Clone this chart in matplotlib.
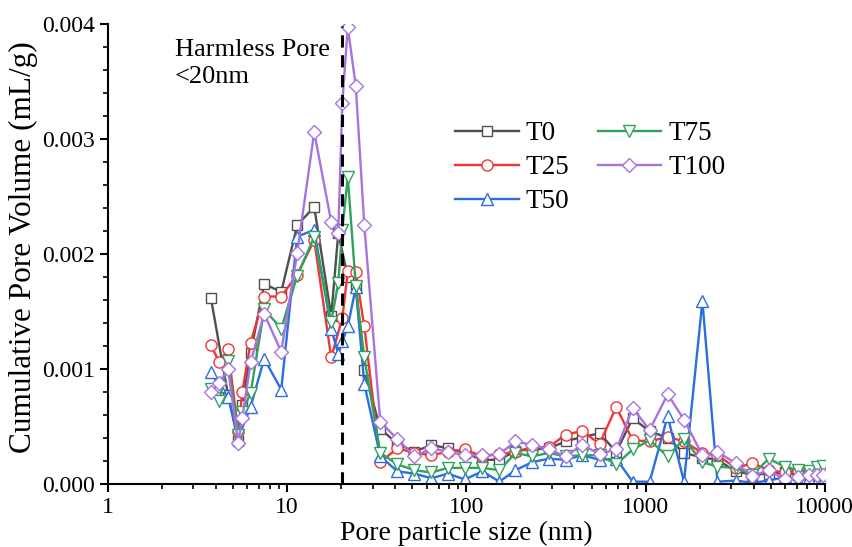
import numpy as np
import matplotlib
matplotlib.use('Agg')
import matplotlib.pyplot as plt

plt.rcParams['font.family'] = ['Liberation Serif', 'DejaVu Serif']
plt.rcParams['mathtext.fontset'] = 'stix'

nan = np.nan

# pore size (nm)
size_nm = [3.75, 4.17, 4.68, 5.33, 5.61, 6.25, 7.44, 9.26, 11.37, 14.15,
           17.6, 19.27, 20.29, 21.78, 24.14, 26.93, 33.07, 41.2, 51.2, 63.8,
           78.8, 97.8, 122.9, 152.9, 187.8, 232.8, 288.4, 357.4, 443, 553,
           686, 846, 1053, 1327, 1637, 2074, 2516, 3183, 3945, 4866,
           5977, 7067, 8140, 9023, 9745]

T0 = [0.00162, nan, 0.00077, 0.00037, 0.00069, 0.00114, 0.00174, 0.00167, 0.00225, 0.00241,
      0.00146, 0.00218, nan, 0.00180, 0.00172, 0.00099, 0.00048, 0.00035, 0.00028, 0.00034,
      0.00031, 0.00027, 0.00021, 0.00021, 0.00029, 0.00030, 0.00031, 0.00037, 0.00041, 0.00044,
      0.00028, 0.00057, 0.00046, 0.00040, 0.00027, 0.00023, 0.00021, 0.00011, 0.00008, 0.00009,
      0.00010, 0.00008, 0.00009, 0.00010, 0.00009]

T25 = [0.00121, 0.00106, 0.00117, 0.00045, 0.00080, 0.00123, 0.00163, 0.00163, 0.00182, 0.00212,
       0.00110, nan, 0.00144, 0.00185, 0.00184, 0.00137, 0.00019, 0.00031, 0.00027, 0.00025,
       0.00028, 0.00030, 0.00024, 0.00026, 0.00028, 0.00032, 0.00032, 0.00043, 0.00046, 0.00035,
       0.00067, 0.00038, 0.00037, 0.00041, 0.00037, 0.00027, 0.00025, 0.00014, 0.00018, 0.00012,
       0.00010, 0.00012, 0.00010, 0.00012, 0.00011]

T50 = [0.00097, 0.00085, 0.00076, 0.00040, nan, 0.00067, 0.00109, 0.00082, 0.00215, 0.00221,
       0.00135, 0.00113, 0.00124, 0.00137, 0.00171, 0.00087, 0.00024, 0.00011, 0.00009, 0.00005,
       0.00009, 0.00004, 0.00011, 0.00002, 0.00012, 0.00019, 0.00022, 0.00021, 0.00025, 0.00021,
       0.00022, 0.00002, 0.00002, 0.00059, 0.00002, 0.00159, 0.00002, 0.00003, 0.00001, 0.00003,
       0.00006, 0.00003, 0.00005, 0.00003, 0.00003]

T75 = [0.00083, 0.00072, 0.00107, 0.00043, 0.00063, 0.00079, 0.00152, 0.00135, 0.00181, 0.00215,
       0.00141, 0.00175, 0.00221, 0.00267, 0.00172, 0.00110, 0.00027, 0.00017, 0.00012, 0.00010,
       0.00014, 0.00014, 0.00014, 0.00012, 0.00027, 0.00024, 0.00027, 0.00024, 0.00025, 0.00025,
       0.00017, 0.00030, 0.00038, 0.00024, 0.00039, 0.00019, 0.00015, 0.00014, 0.00008, 0.00022,
       0.00015, 0.00012, 0.00011, 0.00015, 0.00016]

T100 = [0.00080, 0.00088, 0.00100, 0.00036, 0.00057, 0.00106, 0.00148, 0.00115, 0.00201, 0.00306,
        0.00228, 0.00218, 0.00331, 0.00397, 0.00346, 0.00225, 0.00054, 0.00039, 0.00024, 0.00031,
        0.00028, 0.00025, 0.00025, 0.00026, 0.00037, 0.00034, 0.00030, 0.00024, 0.00034, 0.00026,
        0.00030, 0.00066, 0.00047, 0.00078, 0.00056, 0.00025, 0.00028, 0.00018, 0.00007, 0.00012,
        0.00004, 0.00006, 0.00008, 0.00008, 0.00008]

labels = ['T0', 'T25', 'T50', 'T75', 'T100']
colors = ['#4f4f4f', '#f03535', '#2a6fe0', '#2fa35c', '#a872e0']
markers = ['s', 'o', '^', 'v', 'D']
msizes = [7, 8, 8.5, 8.5, 7]

fig = plt.figure(figsize=(8.53, 5.47), dpi=100)
ax = fig.add_axes([0.1266, 0.1152, 0.8404, 0.841])

x = np.array(size_nm)
for ys, lab, c, m, ms in zip([T0, T25, T50, T75, T100], labels, colors, markers, msizes):
    ys = np.array(ys)
    ok = ~np.isnan(ys)
    ax.plot(x[ok], ys[ok], color=c, marker=m, markersize=ms, markerfacecolor='white',
            markeredgecolor=c, markeredgewidth=1.0, linewidth=1.7, label=lab)

ax.axvline(20.3, color='black', linestyle=(0, (4, 2.5)), linewidth=2.2, ymax=0.995)

ax.set_xscale('log')
ax.set_xlim(1, 10000)
ax.set_ylim(0, 0.004)
ax.set_yticks([0, 0.001, 0.002, 0.003, 0.004])
ax.set_yticklabels(['0.000', '0.001', '0.002', '0.003', '0.004'])
ax.set_xticks([1, 10, 100, 1000, 10000])
ax.set_xticklabels(['1', '10', '100', '1000', '10000'])
ax.yaxis.set_minor_locator(matplotlib.ticker.MultipleLocator(0.0002))
ax.xaxis.set_minor_locator(matplotlib.ticker.LogLocator(base=10, subs=np.arange(2, 10)))
ax.xaxis.set_minor_formatter(matplotlib.ticker.NullFormatter())

for s in ['top', 'right']:
    ax.spines[s].set_visible(False)
for s in ['left', 'bottom']:
    ax.spines[s].set_linewidth(1.5)
ax.tick_params(which='major', direction='out', length=6, width=1.5, labelsize=17)
ax.tick_params(which='minor', direction='out', length=3.5, width=1.2)

ax.set_xlabel('Pore particle size (nm)', fontsize=20, labelpad=2)
ax.set_ylabel('Cumulative Pore Volume (mL/g)', fontsize=22.5)
ax.yaxis.set_label_coords(-0.097, 0.515)

ax.text(0.093, 0.968, 'Harmless Pore\n<20nm', transform=ax.transAxes, fontsize=19,
        va='top', ha='left', linespacing=1.3)

ax.legend(ncol=2, loc='upper left', bbox_to_anchor=(0.469, 0.812), frameon=False,
          fontsize=19.5, handlelength=2.35, columnspacing=1.05, handletextpad=0.25,
          labelspacing=0.33, borderaxespad=0)

fig.savefig('out.png', dpi=100)
